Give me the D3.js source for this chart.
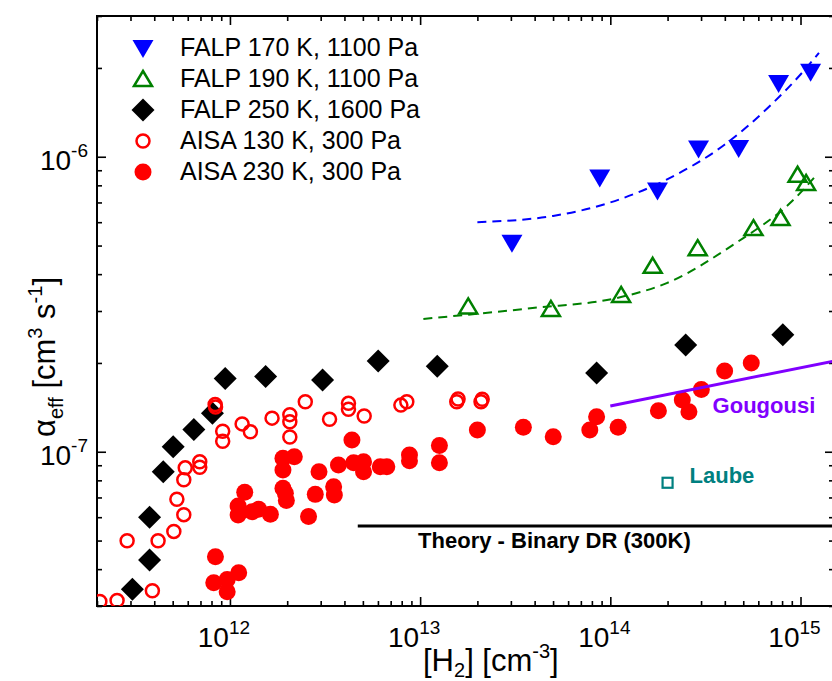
<!DOCTYPE html>
<html>
<head>
<meta charset="utf-8">
<script src="https://cdn.jsdelivr.net/npm/d3@7"></script>
<style>
  body { margin: 0; background: #fff; }
  text { font-family: Arial, "Liberation Sans", sans-serif; }
</style>
</head>
<body>
<svg id="chart"></svg>
<script>
// Constants
const width = 832;
const height = 681;
const plot = { left: 97, top: 16, right: 834, bottom: 606 };

// ---- data ([H2] in cm^-3, alpha in cm^3 s^-1) ----
const falp170H2    = [3.04e13, 8.8e13, 1.77e14, 2.91e14, 4.73e14, 7.67e14, 1.13e15];
const falp170Alpha = [5.11e-7, 8.5e-7, 7.68e-7, 1.066e-6, 1.07e-6, 1.78e-6, 1.94e-6];

const falp190H2    = [1.79e13, 4.87e13, 1.14e14, 1.67e14, 2.88e14, 5.66e14, 7.85e14, 9.65e14, 1.07e15];
const falp190Alpha = [3.11e-7, 3.05e-7, 3.4e-7, 4.27e-7, 4.9e-7, 5.73e-7, 6.2e-7, 8.69e-7, 8.15e-7];

const falp250H2    = [3.07e11, 3.78e11, 3.78e11, 4.46e11, 5.03e11, 6.46e11, 8.09e11, 9.44e11,
                      1.54e12, 3.07e12, 6.02e12, 1.23e13, 8.47e13, 2.49e14, 8.07e14];
const falp250Alpha = [3.42e-8, 4.3e-8, 6.0e-8, 8.55e-8, 1.04e-7, 1.19e-7, 1.35e-7, 1.77e-7,
                      1.8e-7, 1.75e-7, 2.03e-7, 1.95e-7, 1.85e-7, 2.3e-7, 2.49e-7];

const aisa130H2    = [2.07e11, 2.55e11, 2.88e11, 3.91e11, 4.19e11, 5.07e11, 5.26e11, 5.72e11, 5.72e11,
                      5.82e11, 6.94e11, 6.94e11, 8.36e11, 8.4e11, 9.16e11, 9.16e11, 1.159e12, 1.281e12,
                      1.665e12, 2.065e12, 2.065e12, 2.065e12, 2.49e12, 3.34e12, 4.2e12, 4.2e12, 5.08e12,
                      7.92e12, 8.51e12, 1.558e13, 1.583e13, 2.09e13, 2.12e13];
const aisa130Alpha = [3.11e-8, 3.13e-8, 4.99e-8, 3.38e-8, 4.99e-8, 5.37e-8, 6.9e-8, 6.12e-8, 8.04e-8,
                      8.82e-8, 8.86e-8, 9.25e-8, 1.445e-7, 1.417e-7, 1.085e-7, 1.173e-7, 1.243e-7, 1.169e-7,
                      1.3e-7, 1.336e-7, 1.264e-7, 1.122e-7, 1.477e-7, 1.288e-7, 1.459e-7, 1.393e-7, 1.321e-7,
                      1.439e-7, 1.477e-7, 1.477e-7, 1.509e-7, 1.477e-7, 1.507e-7];

const aisa230H2    = [8.39e11, 8.22e11, 9.67e11, 9.67e11, 1.112e12, 1.196e12, 1.104e12, 1.104e12, 1.308e12,
                      1.416e12, 1.632e12, 1.9e12, 2.18e12, 1.9e12, 1.9e12, 1.956e12, 1.98e12, 2.59e12,
                      2.81e12, 2.94e12, 3.51e12, 3.54e12, 3.72e12, 4.38e12, 4.47e12, 5.04e12, 5.04e12,
                      6.17e12, 6.68e12, 8.79e12, 8.79e12, 1.263e13, 1.263e13, 2.0e13, 3.49e13, 5.01e13,
                      7.8e13, 8.47e13, 1.099e14, 1.79e14, 2.39e14, 2.59e14, 3.01e14, 3.99e14, 5.51e14];
const aisa230Alpha = [4.41e-8, 3.6e-8, 3.69e-8, 3.35e-8, 3.89e-8, 7.29e-8, 6.55e-8, 6.1e-8, 6.26e-8,
                      6.38e-8, 6.14e-8, 9.5e-8, 9.62e-8, 8.67e-8, 7.52e-8, 7.23e-8, 6.83e-8, 6.03e-8,
                      7.17e-8, 8.55e-8, 7.61e-8, 7.13e-8, 9.02e-8, 1.096e-7, 9.18e-8, 9.25e-8, 8.55e-8,
                      8.89e-8, 8.89e-8, 9.75e-8, 9.32e-8, 1.05e-7, 9.18e-8, 1.185e-7, 1.21e-7, 1.125e-7,
                      1.185e-7, 1.314e-7, 1.21e-7, 1.377e-7, 1.497e-7, 1.367e-7, 1.627e-7, 1.877e-7, 2.0e-7];

// dashed fits
const fit170H2    = [2e13, 5e13, 1e14, 2e14, 4e14, 7e14, 1e15, 1.25e15];
const fit170Alpha = [6.0e-7, 6.3e-7, 7.0e-7, 8.4e-7, 1.1e-6, 1.5e-6, 1.9e-6, 2.25e-6];
const fit190H2    = [1.04e13, 3.9e13, 1.08e14, 1.98e14, 4.4e14, 9.5e14, 1.2e15];
const fit190Alpha = [2.82e-7, 3.07e-7, 3.32e-7, 3.73e-7, 5.02e-7, 7.3e-7, 8.6e-7];

// other results
const gougousiH2    = [1e14, 1.5e15];
const gougousiAlpha = [1.43e-7, 2.03e-7];
const theoryH2      = [4.7e12, 1.5e15];
const theoryAlpha   = [5.6e-8, 5.6e-8];
const laubeH2 = 2e14, laubeAlpha = 7.85e-8;

const legendLabels = ["FALP 170 K, 1100 Pa", "FALP 190 K, 1100 Pa", "FALP 250 K, 1600 Pa",
                      "AISA 130 K, 300 Pa", "AISA 230 K, 300 Pa"];
const xDecades = [12, 13, 14, 15];
const yDecades = [-7, -6];

// ---- scales ----
const x = d3.scaleLog().domain([2e11, 1.5e15]).range([plot.left, plot.right]);
const y = d3.scaleLog().domain([3e-8, 3e-6]).range([plot.bottom, plot.top]);

const svg = d3.select("#chart").attr("width", width).attr("height", height);

svg.append("defs").append("clipPath").attr("id", "clip")
  .append("rect")
  .attr("x", plot.left).attr("y", plot.top)
  .attr("width", plot.right - plot.left).attr("height", plot.bottom - plot.top);

// marker shapes
const shapes = {
  down:    "M-10.5,-8L10.5,-8L0,10Z",
  up:      "M0,-8L9,7L-9,7Z",
  diamond: "M0,-11.5L11.5,0L0,11.5L-11.5,0Z"
};

const series = [
  { xs: falp170H2, ys: falp170Alpha, kind: "down",    color: "#0000ff", open: false },
  { xs: falp190H2, ys: falp190Alpha, kind: "up",      color: "#008000", open: true },
  { xs: falp250H2, ys: falp250Alpha, kind: "diamond", color: "#000000", open: false },
  { xs: aisa130H2, ys: aisa130Alpha, kind: "circle",  color: "#ff0000", open: true },
  { xs: aisa230H2, ys: aisa230Alpha, kind: "circle",  color: "#ff0000", open: false }
];

function drawMarker(sel, s) {
  if (s.kind === "circle") {
    sel.append("circle")
      .attr("r", s.open ? 6.5 : 8.5)
      .attr("fill", s.open ? "none" : s.color)
      .attr("stroke", s.open ? s.color : "none")
      .attr("stroke-width", 2.5);
  } else {
    sel.append("path")
      .attr("d", shapes[s.kind])
      .attr("fill", s.open ? "none" : s.color)
      .attr("stroke", s.open ? s.color : "none")
      .attr("stroke-width", 2.5)
      .attr("stroke-linejoin", "miter");
  }
}

// ---- axes (ticks inward on all four sides) ----
const isDecade = v => Math.abs(Math.log10(v) - Math.round(Math.log10(v))) < 1e-6;
const xMajor = xDecades.map(e => Math.pow(10, e));
const yMajor = yDecades.map(e => Math.pow(10, e));
const xMinor = x.ticks().filter(v => !isDecade(v));
const yMinor = y.ticks().filter(v => !isDecade(v));

function ticks(make, scale, major, minor, transform) {
  [[minor, 5], [major, 9]].forEach(([vals, len]) => {
    const g = svg.append("g").attr("transform", transform)
      .call(make(scale).tickValues(vals).tickSize(-len).tickSizeOuter(0).tickFormat(""));
    g.select(".domain").remove();
    g.selectAll("line").attr("stroke", "#000").attr("stroke-width", 1.6);
  });
}
ticks(d3.axisBottom, x, xMajor, xMinor, `translate(0,${plot.bottom})`);
ticks(d3.axisTop, x, xMajor, xMinor, `translate(0,${plot.top})`);
ticks(d3.axisLeft, y, yMajor, yMinor, `translate(${plot.left},0)`);
ticks(d3.axisRight, y, yMajor, yMinor, `translate(${plot.right},0)`);

svg.append("rect")
  .attr("x", plot.left).attr("y", plot.top)
  .attr("width", plot.right - plot.left).attr("height", plot.bottom - plot.top)
  .attr("fill", "none").attr("stroke", "#000").attr("stroke-width", 2);

// tick labels as powers of ten
xDecades.forEach(e => {
  const t = svg.append("text")
    .attr("x", x(Math.pow(10, e)) - 6).attr("y", plot.bottom + 41)
    .attr("text-anchor", "middle").attr("font-size", 28);
  t.append("tspan").text("10");
  t.append("tspan").attr("dy", -13).attr("font-size", 19).text(e);
});
yDecades.forEach(e => {
  const t = svg.append("text")
    .attr("x", 88).attr("y", y(Math.pow(10, e)) + 13)
    .attr("text-anchor", "end").attr("font-size", 28);
  t.append("tspan").text("10");
  t.append("tspan").attr("dy", -13).attr("font-size", 19).text(e);
});

// axis titles
const xt = svg.append("text").attr("x", 423).attr("y", 671).attr("font-size", 31);
xt.append("tspan").text("[H");
xt.append("tspan").attr("dy", 6).attr("font-size", 20).text("2");
xt.append("tspan").attr("dy", -6).text("] [cm");
xt.append("tspan").attr("dy", -13).attr("font-size", 20).text("-3");
xt.append("tspan").attr("dy", 13).text("]");

const yt = svg.append("text")
  .attr("transform", "translate(55,357) rotate(-90)")
  .attr("text-anchor", "middle").attr("font-size", 31);
yt.append("tspan").text("α");
yt.append("tspan").attr("dy", 8).attr("font-size", 20).text("eff");
yt.append("tspan").attr("dy", -8).text(" [cm");
yt.append("tspan").attr("dy", -13).attr("font-size", 20).text("3");
yt.append("tspan").attr("dy", 13).text(" s");
yt.append("tspan").attr("dy", -13).attr("font-size", 20).text("-1");
yt.append("tspan").attr("dy", 13).text("]");

// ---- data marks ----
const marks = svg.append("g").attr("clip-path", "url(#clip)");

series.forEach(s => {
  const pts = s.xs.map((v, i) => [v, s.ys[i]]);
  marks.append("g").selectAll("g").data(pts).join("g")
    .attr("transform", d => `translate(${x(d[0])},${y(d[1])})`)
    .each(function () { drawMarker(d3.select(this), s); });
});

const line = d3.line().x(d => x(d[0])).y(d => y(d[1]));
const smooth = d3.line().x(d => x(d[0])).y(d => y(d[1])).curve(d3.curveMonotoneX);

marks.append("path")
  .attr("d", smooth(fit170H2.map((v, i) => [v, fit170Alpha[i]])))
  .attr("fill", "none").attr("stroke", "#0000ff").attr("stroke-width", 2)
  .attr("stroke-dasharray", "9,6");
marks.append("path")
  .attr("d", smooth(fit190H2.map((v, i) => [v, fit190Alpha[i]])))
  .attr("fill", "none").attr("stroke", "#008000").attr("stroke-width", 2)
  .attr("stroke-dasharray", "9,6");

marks.append("path")
  .attr("d", line(theoryH2.map((v, i) => [v, theoryAlpha[i]])))
  .attr("fill", "none").attr("stroke", "#000").attr("stroke-width", 3);
marks.append("path")
  .attr("d", line(gougousiH2.map((v, i) => [v, gougousiAlpha[i]])))
  .attr("fill", "none").attr("stroke", "#8000ff").attr("stroke-width", 3);

marks.append("rect")
  .attr("x", x(laubeH2) - 5).attr("y", y(laubeAlpha) - 5)
  .attr("width", 10).attr("height", 10)
  .attr("fill", "none").attr("stroke", "#008080").attr("stroke-width", 2.2);

// annotations
svg.append("text").attr("x", x(3.45e14)).attr("y", y(1.35e-7))
  .attr("font-size", 22).attr("font-weight", "bold").attr("fill", "#8000ff").text("Gougousi");
svg.append("text").attr("x", x(2.61e14)).attr("y", y(7.84e-8))
  .attr("font-size", 22).attr("font-weight", "bold").attr("fill", "#008080").text("Laube");
svg.append("text").attr("x", x(9.76e12)).attr("y", y(5.6e-8) + 22)
  .attr("font-size", 22).attr("font-weight", "bold").attr("fill", "#000")
  .text("Theory - Binary DR (300K)");

// ---- legend ----
const legend = svg.append("g");
legendLabels.forEach((label, i) => {
  const row = legend.append("g").attr("transform", `translate(143,${48 + i * 31})`);
  drawMarker(row, series[i]);
  row.append("text").attr("x", 37).attr("y", 8).attr("font-size", 25).text(label);
});
</script>
</body>
</html>
